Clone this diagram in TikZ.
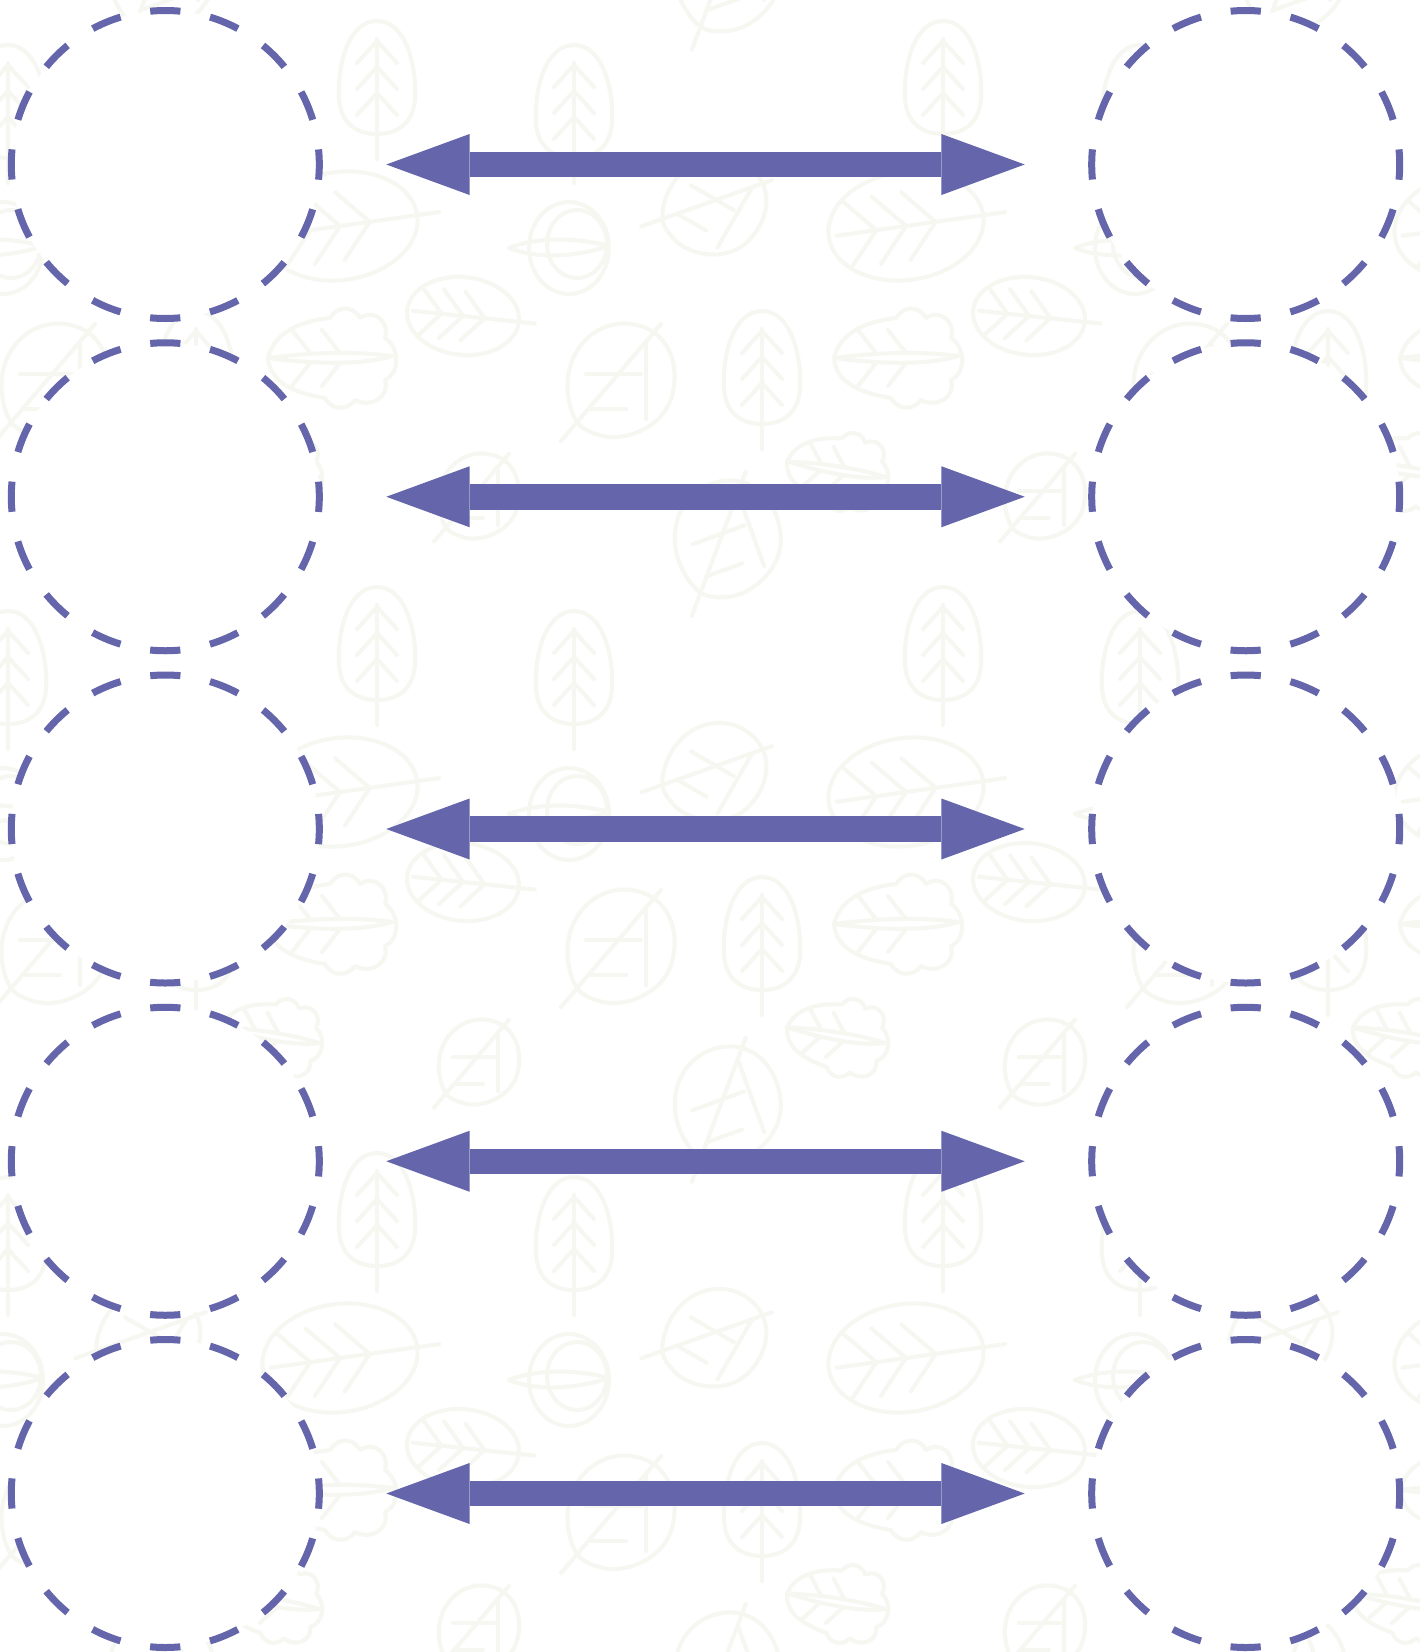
\documentclass[tikz,border=0pt]{standalone}
\usetikzlibrary{arrows.meta}
\definecolor{cpurple}{RGB}{100,101,170}
\definecolor{cleaf}{RGB}{246,247,241}
\tikzset{
  leafline/.style={draw=cleaf, line width=4pt, line cap=round, line join=round},
  treeleaf/.pic={
    \draw[leafline] (0,-58) .. controls (30,-58) and (40,-10) .. (38,20)
      .. controls (36,45) and (20,55) .. (0,55)
      .. controls (-20,55) and (-36,45) .. (-38,20)
      .. controls (-40,-10) and (-30,-58) .. (0,-58);
    \draw[leafline] (0,-40) -- (0,80);
    \foreach \a in {-38,-12,14} \draw[leafline] (-20,\a+22) -- (0,\a) -- (20,\a+22);
  },
  ovalleaf/.pic={
    \draw[leafline] (0,0) ellipse [x radius=78, y radius=54];
    \draw[leafline] (-70,0) -- (100,0);
    \foreach \a in {-30,0,30} \draw[leafline] (\a-30,-34) -- (\a,0) -- (\a-30,34);
  },
  roundleaf/.pic={
    \draw[leafline] (-50,30) .. controls (-65,-20) and (-30,-60) .. (10,-55)
      .. controls (50,-50) and (60,-10) .. (50,20)
      .. controls (40,50) and (0,65) .. (-25,55)
      .. controls (-40,50) and (-45,45) .. (-50,30);
    \draw[leafline] (-60,62) -- (40,-55);
    \draw[leafline] (-35,-5) -- (20,-5);
    \draw[leafline] (-30,30) -- (5,30);
    \draw[leafline] (25,-35) -- (25,40);
  },
  lettuceleaf/.pic={
    \draw[leafline] (-62,0) .. controls (-55,-30) and (-20,-38) .. (0,-40)
      .. controls (10,-55) and (25,-50) .. (30,-40)
      .. controls (45,-50) and (60,-35) .. (55,-20)
      .. controls (70,-10) and (70,15) .. (55,22)
      .. controls (60,40) and (40,50) .. (25,42)
      .. controls (15,55) and (0,50) .. (-5,40)
      .. controls (-35,35) and (-60,25) .. (-62,0);
    \draw[leafline] (-62,0) .. controls (0,-8) and (40,-5) .. (62,-2);
    \draw[leafline] (-62,0) .. controls (0,8) and (40,5) .. (62,-2);
    \foreach \a in {-20,10} \draw[leafline] (\a-18,-28) -- (\a,-5) (\a,5) -- (\a-18,28);
  },
  sproutleaf/.pic={
    \draw[leafline] (0,0) ellipse [x radius=40, y radius=46];
    \draw[leafline] (8,-4) ellipse [x radius=30, y radius=34];
    \draw[leafline] (-60,0) .. controls (-30,-12) and (10,-10) .. (40,-2)
      .. controls (10,8) and (-30,12) .. (-60,0);
  },
  ring/.style={circle, draw=cpurple, fill=white, line width=7pt,
    minimum size=308pt, inner sep=0pt, outer sep=0pt,
    dash pattern=on 30.238pt off 30.238pt, dash phase=15.119pt},
  bigarrow/.style={draw=cpurple, line width=25.5pt,
    {Triangle[length=83.3pt, width=61pt, line width=0pt]}-{Triangle[length=83.3pt, width=61pt, line width=0pt]},
    shorten <=67pt, shorten >=67pt}
}
\begin{document}
\begin{tikzpicture}[x=1pt,y=-1pt]
\useasboundingbox (0,0) rectangle (1420,1652);
\fill[white] (0,0) rectangle (1420,1652);
% faint background leaf pattern
\begin{scope}
\clip (0,0) rectangle (1420,1652);
\foreach \dx in {-566,0,566,1132} {
  \foreach \dy in {-566,0,566,1132} {
    \begin{scope}[shift={(\dx,\dy)}]
      \pic at (377,79) {treeleaf};
      \pic at (574,103) {treeleaf};
      \pic at (196,369) {treeleaf};
      \pic[rotate=8] at (340,226) {ovalleaf};
      \pic[scale=0.72,rotate=-6] at (463,316) {ovalleaf};
      \pic at (330,358) {lettuceleaf};
      \pic at (55,379) {roundleaf};
      \pic[rotate=-30,scale=0.9] at (150,205) {roundleaf};
      \pic at (3,248) {sproutleaf};
      \pic[rotate=20] at (161,537) {roundleaf};
      \pic[scale=0.75] at (479,495) {roundleaf};
      \pic[rotate=-10,scale=0.8] at (270,470) {lettuceleaf};
    \end{scope}
  }
}
\end{scope}
% rings and arrows
\foreach \i in {0,...,4} {
  \pgfmathsetmacro{\yy}{164.5+332.25*\i}
  \node[ring] (L\i) at (165.3,\yy) {};
  \node[ring] (R\i) at (1245.7,\yy) {};
  \draw[bigarrow] (L\i) -- (R\i);
}
\end{tikzpicture}
\end{document}
